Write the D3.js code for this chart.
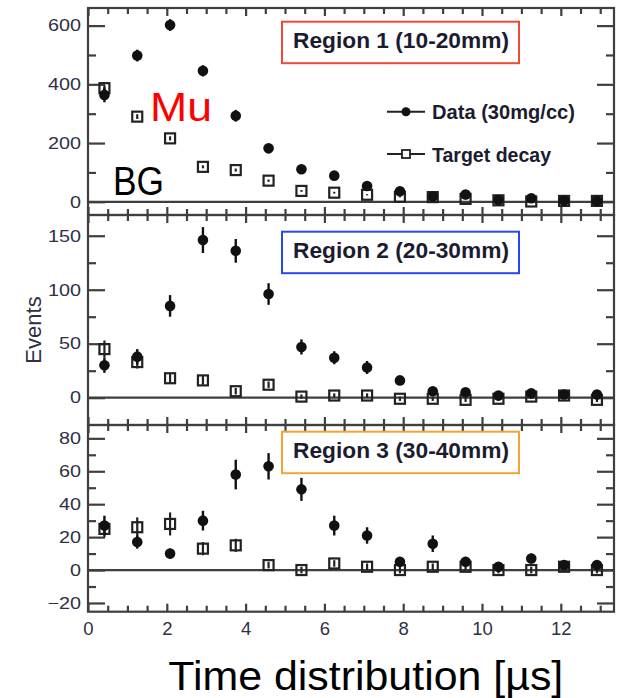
<!DOCTYPE html>
<html><head><meta charset="utf-8">
<script src="https://cdn.jsdelivr.net/npm/d3@7"></script>
<style>
html,body{margin:0;padding:0;background:#fff;}
svg{display:block;}
.ylab text{transform-box:fill-box;transform-origin:right center;transform:scaleX(1.2);}
</style>
</head><body>
<svg id="chart" width="621" height="698"></svg>
<script>
// ---- data ----
const timeCenters = [0.417,1.25,2.083,2.917,3.75,4.583,5.417,6.25,7.083,7.917,8.75,9.583,10.417,11.25,12.083,12.917];

const region1Data = [364,498,602,446,293,182,111,89,54,36,18,25,6,12,4,3];
const region1DataErr = [25,20,20,19,20,14,11,10,8,7,6,6,4,4,3,3];
const region1BG = [387,290,216,119,108,72,37,31,24,17,16,10,5,1,3,3];
const region1BGErr = [10,8,7,5,5,4,3,3,2,2,2,2,1,1,1,1];

const region2Data = [30,38,85,146,136,96,47,37,28,16,6,5,2,4,3,3];
const region2DataErr = [7,7,10,12,11,10,7,6,6,4,3,3,2,2,2,2];
const region2BG = [45,33,18,16,6,12,1,2,2,-1,-1,-2,-1,1,2,-2];
const region2BGErr = [8,6,5,4,3,3,2,2,2,2,2,2,2,2,2,2];

const region3Data = [27,17,10,30,58,63,49,27,21,5,16,5,2,7,3,3];
const region3DataErr = [6,4,3,6,9,8,7,6,5,3,5,3,2,3,2,2];
const region3BG = [25,26,28,13,15,3,0,4,2,0,2,2,0,0,2,0];
const region3BGErr = [5,6,7,4,4,2,2,2,2,2,2,2,2,2,2,2];

const regionLabels = ["Region 1 (10-20mm)","Region 2 (20-30mm)","Region 3 (30-40mm)"];
const regionColors = ["#ee4a38","#2a46ee","#f5a236"];

const yMajor1 = [0,200,400,600], yMinor1 = [100,300,500];
const yMajor2 = [0,50,100,150], yMinor2 = [25,75,125];
const yMajor3 = [-20,0,20,40,60,80], yMinor3 = [-10,10,30,50,70];
const xMajor = [0,2,4,6,8,10,12];
const xMinor = [0.5,1,1.5,2.5,3,3.5,4.5,5,5.5,6.5,7,7.5,8.5,9,9.5,10.5,11,11.5,12.5,13];

const legendLabels = ["Data (30mg/cc)","Target decay"];
const xTitle = "Time distribution [µs]";
const yTitle = "Events";

// ---- layout ----
const L = 88, R = 614;
const axisColor = "#3f3f3f";
const labColor = "#2e3145";
const svg = d3.select("#chart");

const x = d3.scaleLinear().domain([0,13.35]).range([L,R]);

const panels = [
  {top:8, bottom:215, boxTop:21.7, dom:[-45,660], maj:yMajor1, min:yMinor1, data:region1Data, dErr:region1DataErr, bg:region1BG, bErr:region1BGErr},
  {top:215, bottom:425, boxTop:231.7, dom:[-25.3,169.2], maj:yMajor2, min:yMinor2, data:region2Data, dErr:region2DataErr, bg:region2BG, bErr:region2BGErr},
  {top:425, bottom:611.7, boxTop:431.7, dom:[-25.3,88.1], maj:yMajor3, min:yMinor3, data:region3Data, dErr:region3DataErr, bg:region3BG, bErr:region3BGErr}
];

function styleAxis(g){
  g.select(".domain").remove();
  g.selectAll("line").attr("stroke",axisColor).attr("stroke-width",2.2);
}

panels.forEach((p,i)=>{
  const y = d3.scaleLinear().domain(p.dom).range([p.bottom,p.top]);
  const g = svg.append("g");

  // zero line
  g.append("line").attr("x1",L).attr("x2",R).attr("y1",y(0)).attr("y2",y(0))
    .attr("stroke",axisColor).attr("stroke-width",2.2);

  // y ticks inward (left)
  g.append("g").attr("transform",`translate(${L},0)`)
    .call(d3.axisRight(y).tickValues(p.maj).tickSize(17).tickFormat("")).call(styleAxis);
  g.append("g").attr("transform",`translate(${L},0)`)
    .call(d3.axisRight(y).tickValues(p.min).tickSize(8).tickFormat("")).call(styleAxis);
  // y ticks inward (right)
  g.append("g").attr("transform",`translate(${R},0)`)
    .call(d3.axisLeft(y).tickValues(p.maj).tickSize(17).tickFormat("")).call(styleAxis);
  g.append("g").attr("transform",`translate(${R},0)`)
    .call(d3.axisLeft(y).tickValues(p.min).tickSize(8).tickFormat("")).call(styleAxis);
  // y labels
  const yl = g.append("g").attr("class","ylab").attr("transform",`translate(${L},0)`)
    .call(d3.axisLeft(y).tickValues(p.maj).tickSize(0).tickPadding(7).tickFormat(d3.format("d")));
  yl.select(".domain").remove();
  yl.selectAll("text").attr("font-family","Liberation Sans, Arial, sans-serif")
    .attr("font-size",16.5).attr("fill",labColor);

  // x ticks top (inward, down) and bottom (inward, up)
  g.append("g").attr("transform",`translate(0,${p.top})`)
    .call(d3.axisBottom(x).tickValues(xMajor).tickSize(8).tickFormat("")).call(styleAxis);
  g.append("g").attr("transform",`translate(0,${p.top})`)
    .call(d3.axisBottom(x).tickValues(xMinor).tickSize(6).tickFormat("")).call(styleAxis);
  g.append("g").attr("transform",`translate(0,${p.bottom})`)
    .call(d3.axisTop(x).tickValues(xMajor).tickSize(8).tickFormat("")).call(styleAxis);
  g.append("g").attr("transform",`translate(0,${p.bottom})`)
    .call(d3.axisTop(x).tickValues(xMinor).tickSize(6).tickFormat("")).call(styleAxis);

  // frame
  g.append("rect").attr("x",L).attr("y",p.top).attr("width",R-L).attr("height",p.bottom-p.top)
    .attr("fill","none").attr("stroke",axisColor).attr("stroke-width",2.2);

  // region label box
  const bx = 282, by = p.boxTop;
  g.append("rect").attr("x",bx).attr("y",by).attr("width",237).attr("height",41.5)
    .attr("fill","#fff").attr("stroke",regionColors[i]).attr("stroke-width",2);
  g.append("text").attr("x",bx+11).attr("y",by+26.5).text(regionLabels[i])
    .attr("font-family","Liberation Sans, Arial, sans-serif").attr("font-weight","bold")
    .attr("font-size",22).attr("fill","#1c1c30")
    .attr("textLength",216).attr("lengthAdjust","spacingAndGlyphs");

  // background (squares) with error bars
  const bgG = g.append("g");
  bgG.selectAll("line.be").data(p.bg).join("line")
    .attr("x1",(d,j)=>x(timeCenters[j])).attr("x2",(d,j)=>x(timeCenters[j]))
    .attr("y1",(d,j)=>y(d-p.bErr[j])).attr("y2",(d,j)=>y(d+p.bErr[j]))
    .attr("stroke","#222").attr("stroke-width",2.2);
  bgG.selectAll("rect").data(p.bg).join("rect")
    .attr("x",(d,j)=>x(timeCenters[j])-5).attr("y",d=>y(d)-5)
    .attr("width",10).attr("height",10)
    .attr("fill","#fff").attr("fill-opacity",0).attr("stroke","#222").attr("stroke-width",2.2);

  // data (filled circles) with error bars
  const dG = g.append("g");
  dG.selectAll("line").data(p.data).join("line")
    .attr("x1",(d,j)=>x(timeCenters[j])).attr("x2",(d,j)=>x(timeCenters[j]))
    .attr("y1",(d,j)=>y(d-p.dErr[j])).attr("y2",(d,j)=>y(d+p.dErr[j]))
    .attr("stroke","#111").attr("stroke-width",2.4);
  dG.selectAll("circle").data(p.data).join("circle")
    .attr("cx",(d,j)=>x(timeCenters[j])).attr("cy",d=>y(d)).attr("r",5.3)
    .attr("fill","#111");

  if(i===2){
    const xl = g.append("g").attr("transform",`translate(0,${p.bottom})`)
      .call(d3.axisBottom(x).tickValues(xMajor).tickSize(0).tickPadding(10).tickFormat(d3.format("d")));
    xl.select(".domain").remove();
    xl.selectAll("text").attr("font-family","Liberation Sans, Arial, sans-serif")
      .attr("font-size",18.5).attr("fill",labColor);
  }
});

// legend (panel 1)
const leg = svg.append("g");
const legY = [111.7, 154];
leg.selectAll("line").data(legendLabels).join("line")
  .attr("x1",387).attr("x2",425).attr("y1",(d,i)=>legY[i]).attr("y2",(d,i)=>legY[i])
  .attr("stroke","#222").attr("stroke-width",2);
leg.append("circle").attr("cx",406).attr("cy",legY[0]).attr("r",4.5).attr("fill","#111");
leg.append("rect").attr("x",402).attr("y",legY[1]-4).attr("width",8).attr("height",8)
  .attr("fill","#fff").attr("stroke","#222").attr("stroke-width",1.8);
leg.selectAll("text").data(legendLabels).join("text")
  .attr("x",432).attr("y",(d,i)=>legY[i]+7.5).text(d=>d)
  .attr("font-family","Liberation Sans, Arial, sans-serif").attr("font-weight","bold")
  .attr("font-size",20).attr("fill","#1c1c30")
  .attr("textLength",(d,i)=>[143,119][i]).attr("lengthAdjust","spacingAndGlyphs");

// annotations
svg.append("text").attr("x",150).attr("y",120.7).text("Mu")
  .attr("font-family","Liberation Sans, Arial, sans-serif").attr("font-size",40)
  .attr("fill","#ff0000").attr("textLength",62).attr("lengthAdjust","spacingAndGlyphs");
svg.append("text").attr("x",113).attr("y",195).text("BG")
  .attr("font-family","Liberation Sans, Arial, sans-serif").attr("font-size",40)
  .attr("fill","#000").attr("textLength",51).attr("lengthAdjust","spacingAndGlyphs");

// axis titles
svg.append("text").attr("transform","translate(41,330) rotate(-90)")
  .attr("text-anchor","middle").text(yTitle)
  .attr("font-family","Liberation Sans, Arial, sans-serif").attr("font-size",22).attr("fill",labColor);
svg.append("text").attr("x",168.3).attr("y",690).text(xTitle)
  .attr("font-family","Liberation Sans, Arial, sans-serif").attr("font-size",41).attr("fill","#000")
  .attr("textLength",395).attr("lengthAdjust","spacingAndGlyphs");
</script>
</body></html>
